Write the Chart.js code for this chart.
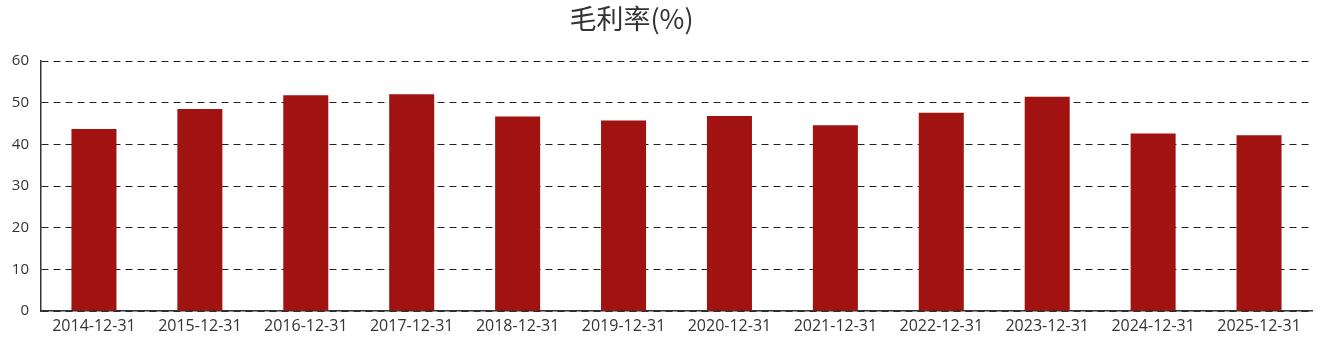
<!DOCTYPE html>
<html>
<head>
<meta charset="utf-8">
<script src="https://cdn.jsdelivr.net/npm/chart.js@4/dist/chart.umd.min.js"></script>
<style>
  html, body { margin: 0; padding: 0; background: #fff; }
  #wrap { position: relative; width: 1323px; height: 338px; }
  #title { position: absolute; left: 0; width: 1263px; top: 0px; text-align: center;
           font-family: "Noto Sans CJK SC", "Noto Sans", sans-serif; font-size: 27px; color: #333; line-height: 36px; }
  canvas { position: absolute; left: 0; top: 0; }
</style>
</head>
<body>
<div id="wrap">
  <canvas id="c" width="1323" height="338"></canvas>
  <div id="title">毛利率(%)</div>
</div>
<script>
const categories = ["2014-12-31","2015-12-31","2016-12-31","2017-12-31","2018-12-31","2019-12-31","2020-12-31","2021-12-31","2022-12-31","2023-12-31","2024-12-31","2025-12-31"];
const grossMargin = [43.7, 48.5, 51.8, 52.0, 46.7, 45.7, 46.8, 44.6, 47.6, 51.4, 42.6, 42.2];
const yTicks = [0, 10, 20, 30, 40, 50, 60];

const xFont = { family: "'Open Sans', 'Noto Sans', sans-serif", size: 16 };
const yFont = { family: "'Open Sans', 'Noto Sans', sans-serif", size: 15 };

new Chart(document.getElementById('c'), {
  type: 'bar',
  data: {
    labels: categories,
    datasets: [{
      label: '毛利率(%)',
      data: grossMargin,
      backgroundColor: '#a11311',
      borderWidth: 0,
      barPercentage: 0.425,
      categoryPercentage: 1.0
    }]
  },
  options: {
    responsive: false,
    animation: false,
    layout: { padding: { top: 61, right: 11, left: 0, bottom: 0 } },
    plugins: { legend: { display: false }, title: { display: false }, tooltip: { enabled: false } },
    scales: {
      x: {
        grid: { display: false, drawTicks: false },
        border: { display: true, color: '#333', width: 1.5 },
        ticks: { color: '#333', font: xFont, padding: 6, maxRotation: 0, autoSkip: false },
        afterFit: s => { s.height = 27; }
      },
      y: {
        min: 0, max: 60,
        afterBuildTicks: s => { s.ticks = yTicks.map(v => ({ value: v })); },
        grid: { color: '#222', lineWidth: 1, drawTicks: false },
        border: { display: true, color: '#333', width: 1.5, dash: [7, 5] },
        ticks: { color: '#333', font: yFont, padding: 12 },
        afterFit: s => { s.width = 41; }
      }
    }
  }
});
</script>
</body>
</html>
